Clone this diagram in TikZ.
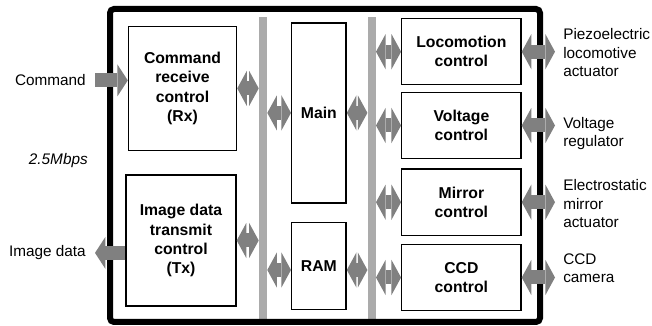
\documentclass[tikz,border=0pt]{standalone}
\usepackage{fontspec}
\setmainfont{Liberation Sans}
\usetikzlibrary{arrows.meta}
\tikzset{
  unit/.style={rectangle, draw, line width=1pt, inner sep=0pt, align=center, font=\fontsize{11.2}{13.6}\selectfont\bfseries},
  sideunit/.style={unit, minimum width=2.98cm, minimum height=1.65cm},
  bus/.style={rectangle, fill=black!33, inner sep=0pt, minimum width=0.2cm, minimum height=7.575cm},
  link/.style={draw=black!50, line width=0.35cm, {Triangle[width=0.88cm,length=0.24cm,line width=0pt]}-{Triangle[width=0.88cm,length=0.24cm,line width=0pt]}},
  feed/.style={draw=black!50, line width=0.35cm, -{Triangle[width=0.8cm,length=0.26cm,line width=0pt]}},
  sidetext/.style={inner sep=0pt, align=left, font=\fontsize{10.9}{13.3}\selectfont}
}

\begin{document}
\begin{tikzpicture}[x=0.025cm, y=-0.025cm]
  \useasboundingbox (0,0) rectangle (652,326);

  % buses
  \node[bus] (bus1) at (263,168.5) {};
  \node[bus] (bus2) at (371.7,168.5) {};

  % outer frame
  \draw[line width=0.15cm, rounded corners=0.1cm] (110,9) rectangle (540,322);

  % blocks
  \node[unit, minimum width=2.7cm, minimum height=3.1cm] (rx) at (182.5,88.4) {Command\\receive\\control\\(Rx)};
  \node[unit, minimum width=2.75cm, minimum height=3.275cm] (tx) at (181,240.5) {Image data\\transmit\\control\\(Tx)};
  \node[unit, minimum width=1.36cm, minimum height=4.5cm] (main) at (318.9,112.9) {Main};
  \node[unit, minimum width=1.36cm, minimum height=2.165cm] (ram) at (318.9,266) {RAM};
  \node[sideunit] (loco) at (461.4,51.7) {Locomotion\\control};
  \node[sideunit] (volt) at (461.4,125.5) {Voltage\\control};
  \node[sideunit] (mirr) at (461.4,202.2) {Mirror\\control};
  \node[sideunit] (ccd) at (461.4,277.5) {CCD\\control};

  % outside texts
  \node[sidetext, anchor=east] (cmdtxt) at (86,80) {Command};
  \node[sidetext, anchor=east, font=\fontsize{10.9}{13.3}\selectfont\itshape] (rate) at (88,161) {2.5Mbps};
  \node[sidetext, anchor=east] (imgtxt) at (86,253) {Image data};
  \node[sidetext, anchor=base west] (piezo) at (563,77) {Piezoelectric\\locomotive\\actuator};
  \node[sidetext, anchor=base west] (vreg) at (563,147) {Voltage\\regulator};
  \node[sidetext, anchor=base west] (emirr) at (563,228) {Electrostatic\\mirror\\actuator};
  \node[sidetext, anchor=base west] (cam) at (563,283) {CCD\\camera};

  \coordinate (inx) at (95,0);
  \coordinate (outx) at (555,0);

  % connectors
  \draw[feed] ([yshift=0.2cm]rx.west -| inx) -- ([yshift=0.2cm]rx.west);
  \draw[feed] ([yshift=-0.31cm]tx.west) -- ([yshift=-0.31cm]tx.west -| inx);
  \draw[link] (rx.east) -- (rx.east -| bus1.west);
  \draw[link] (tx.east) -- (tx.east -| bus1.west);
  \draw[link] (main.west -| bus1.east) -- (main.west);
  \draw[link] ([yshift=-0.1cm]ram.west -| bus1.east) -- ([yshift=-0.1cm]ram.west);
  \draw[link] (main.east) -- (main.east -| bus2.west);
  \draw[link] ([yshift=-0.1cm]ram.east) -- ([yshift=-0.1cm]ram.east -| bus2.west);
  \draw[link] (loco.west -| bus2.east) -- (loco.west);
  \draw[link] (volt.west -| bus2.east) -- (volt.west);
  \draw[link] (mirr.west -| bus2.east) -- (mirr.west);
  \draw[link] (ccd.west -| bus2.east) -- (ccd.west);
  \draw[link] (loco.east) -- (loco.east -| outx);
  \draw[link] (volt.east) -- (volt.east -| outx);
  \draw[link] (mirr.east) -- (mirr.east -| outx);
  \draw[link] (ccd.east) -- (ccd.east -| outx);
\end{tikzpicture}
\end{document}
